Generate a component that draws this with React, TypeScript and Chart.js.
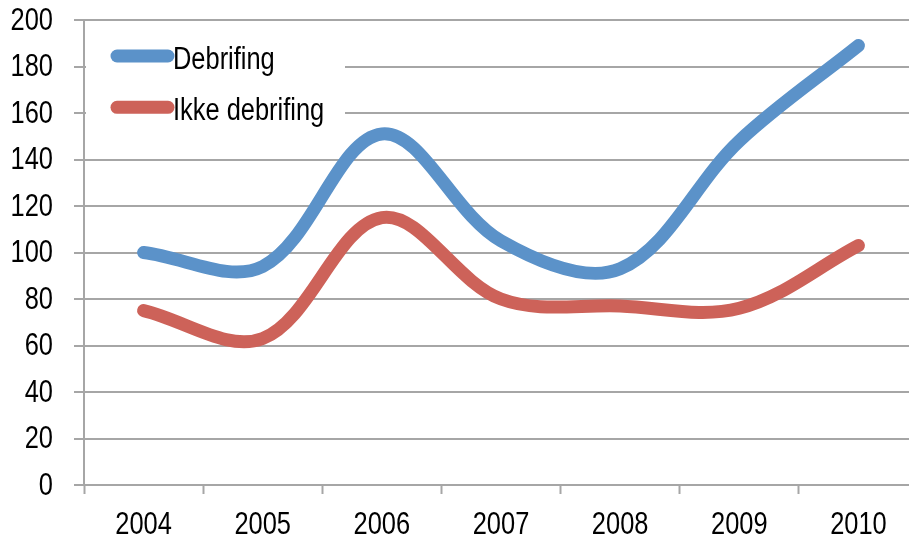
import React, { useEffect, useRef } from "react";
import { Chart, registerables } from "chart.js";

Chart.register(...registerables);

// ---- data ----
const categories = ["2004", "2005", "2006", "2007", "2008", "2009", "2010"];
const seriesNames = ["Debrifing", "Ikke debrifing"];
const debrifing = [100, 94, 151, 105, 93, 148, 189];
const ikkeDebrifing = [75, 63, 115, 80, 77, 76, 103];
const yMin = 0;
const yMax = 200;
const yStep = 20;

// ---- styles ----
const FONT = "'Liberation Sans', Arial, sans-serif";
const FONT_SIZE = 31;
const NARROW = 0.82; // horizontal compression to imitate a narrow face
const BLUE = "#5B92C9";
const RED = "#CD6259";
const GRID = "#a6a6a6";

function drawNarrow(ctx: CanvasRenderingContext2D, text: string, x: number, y: number, align: CanvasTextAlign, baseline: CanvasTextBaseline) {
  ctx.save();
  ctx.translate(x, y);
  ctx.scale(NARROW, 1);
  ctx.font = `${FONT_SIZE}px ${FONT}`;
  ctx.fillStyle = "#000";
  ctx.textAlign = align;
  ctx.textBaseline = baseline;
  ctx.fillText(text, 0, 0);
  ctx.restore();
}

const narrowLabels = {
  id: "narrowLabels",
  afterDraw(chart: any) {
    const ctx = chart.ctx;
    const xs = chart.scales.x;
    const ys = chart.scales.y;
    ys.ticks.forEach((t: any, i: number) => {
      drawNarrow(ctx, String(t.label), ys.right - 31, ys.getPixelForTick(i) + 1, "right", "middle");
    });
    xs.ticks.forEach((t: any, i: number) => {
      drawNarrow(ctx, String(t.label), xs.getPixelForTick(i), xs.top + 40, "center", "middle");
    });
  },
};

const insideLegend = {
  id: "insideLegend",
  afterDraw(chart: any) {
    const ctx = chart.ctx;
    const area = chart.chartArea;
    ctx.save();
    ctx.fillStyle = "#ffffff";
    ctx.fillRect(area.left + 2, 27, 259, 113);
    chart.data.datasets.forEach((ds: any, i: number) => {
      const y = 56 + i * 51.3;
      ctx.strokeStyle = ds.borderColor;
      ctx.lineWidth = 13;
      ctx.lineCap = "round";
      ctx.beginPath();
      ctx.moveTo(117, y);
      ctx.lineTo(168, y);
      ctx.stroke();
      drawNarrow(ctx, ds.label, 173, y + 12.8, "left", "alphabetic");
    });
    ctx.restore();
  },
};

export default function App() {
  const ref = useRef<HTMLCanvasElement | null>(null);

  useEffect(() => {
    if (!ref.current) return;
    const lineStyle = {
      borderWidth: 13,
      pointRadius: 0,
      tension: 0.35,
      borderCapStyle: "round",
      borderJoinStyle: "round",
      fill: false,
    };
    const chart = new Chart(ref.current, {
      type: "line",
      data: {
        labels: categories,
        datasets: [
          { label: seriesNames[0], data: debrifing, borderColor: BLUE, backgroundColor: BLUE, ...lineStyle },
          { label: seriesNames[1], data: ikkeDebrifing, borderColor: RED, backgroundColor: RED, ...lineStyle },
        ],
      },
      options: {
        responsive: false,
        animation: false,
        devicePixelRatio: 1,
        layout: { padding: { top: 20, left: 0, right: 0, bottom: 0 } },
        plugins: {
          legend: { display: false },
          tooltip: { enabled: false },
        },
        scales: {
          x: {
            offset: true,
            grid: {
              offset: true,
              drawOnChartArea: false,
              drawTicks: true,
              tickLength: 9,
              tickColor: GRID,
              tickWidth: 2,
            },
            border: { color: GRID, width: 2 },
            ticks: {
              color: "rgba(0,0,0,0)",
              padding: 12,
              maxRotation: 0,
              font: { family: FONT, size: FONT_SIZE },
            },
            afterFit(scale: any) {
              scale.height = 55;
              scale.paddingLeft = 0;
              scale.paddingRight = 0;
            },
          },
          y: {
            min: yMin,
            max: yMax,
            ticks: {
              stepSize: yStep,
              color: "rgba(0,0,0,0)",
              padding: 21,
              font: { family: FONT, size: FONT_SIZE },
            },
            grid: {
              color: GRID,
              lineWidth: 2,
              drawTicks: true,
              tickLength: 10,
              tickColor: GRID,
            },
            border: { color: GRID, width: 2 },
            afterFit(scale: any) {
              scale.width = 84;
              scale.paddingTop = 0;
              scale.paddingBottom = 0;
            },
          },
        },
      },
      plugins: [insideLegend, narrowLabels],
    } as any);
    return () => chart.destroy();
  }, []);

  return (
    <div
      style={{
        position: "fixed",
        left: 0,
        top: 0,
        width: 909,
        height: 540,
        overflow: "hidden",
        background: "#fff",
      }}
    >
      <canvas ref={ref} width={918} height={540} style={{ width: 918, height: 540, display: "block" }} />
    </div>
  );
}
